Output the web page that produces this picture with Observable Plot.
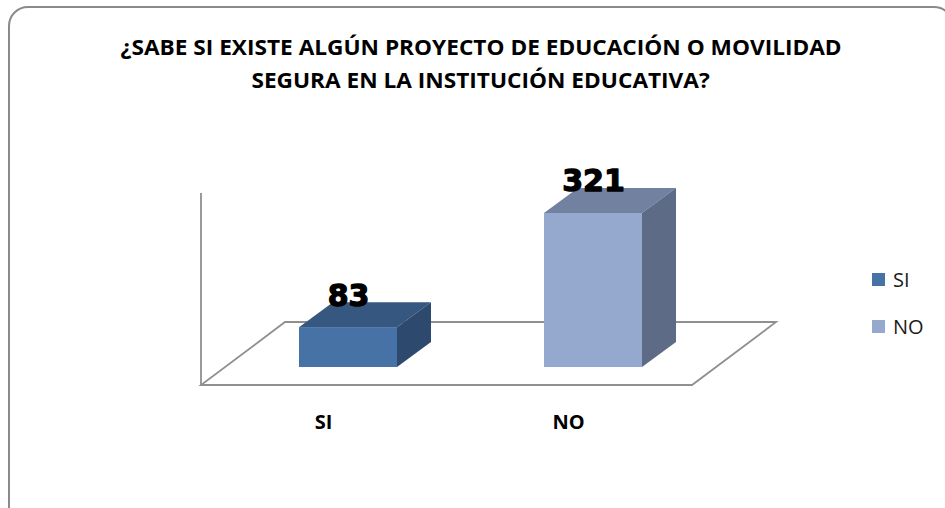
<!DOCTYPE html>
<html><head><meta charset="utf-8">
<script src="https://cdn.jsdelivr.net/npm/d3@7"></script>
<script src="https://cdn.jsdelivr.net/npm/@observablehq/plot@0.6"></script>
<style>
body{margin:0;background:#fff;overflow:hidden}
#wrap{position:relative;width:945px;height:508px;overflow:hidden;font-family:"Open Sans",sans-serif}
#frame{position:absolute;left:8px;top:6px;width:946px;height:520px;border:2px solid #8a8a8a;border-radius:20px;box-sizing:border-box}
#title{position:absolute;left:0;top:30px;width:962px;text-align:center;font-weight:700;font-size:22px;color:#000;line-height:33px}
#title span{display:inline-block;white-space:nowrap;transform-origin:center}
#chart{position:absolute;left:0;top:0}
.lg{position:absolute;left:872px;font-size:20px;color:#1a1a1a;line-height:24px}
.lg i{position:absolute;left:0;width:13px;height:13px}
.lg b{position:absolute;left:21px;font-weight:400;white-space:nowrap}
</style></head>
<body>
<div id="wrap">
  <div id="frame"></div>
  <div id="chart"></div>
  <div id="title"><span id="t1"></span><br><span id="t2"></span></div>
  <div id="legend"></div>
</div>
<script>
const titleLines = ["¿SABE SI EXISTE ALGÚN PROYECTO DE EDUCACIÓN O MOVILIDAD", "SEGURA EN LA INSTITUCIÓN EDUCATIVA?"];
const categories = ["SI", "NO"];
const values = [83, 321];
const frontColors = ["#4672a6", "#95a9cf"];
const topColors = ["#36577f", "#71819f"];
const sideColors = ["#2d4a6e", "#5d6b87"];
const yDomain = [0, 400];

const data = categories.map((c, i) => ({cat: c, value: values[i], top: topColors[i], side: sideColors[i]}));

const DEPTH = [34, -25];      // bar depth offset (px)
const FLOOR = [84, -63];      // floor depth offset (px)
const FRONT = [-24, 18];      // floor front plane offset from bar front plane (px)

function floorMark(index, scales, values, dims) {
  const y0 = scales.y(yDomain[0]);
  const yMax = scales.y(yDomain[1]);
  const l = dims.marginLeft + FRONT[0], r = dims.width - dims.marginRight + FRONT[0];
  const yf = y0 + FRONT[1];
  const g = d3.create("svg:g").attr("fill", "none").attr("stroke", "#8f8f8f").attr("stroke-width", 1.8);
  g.append("path").attr("fill", "#fff").attr("d",
    `M${l},${yf}L${r},${yf}L${r + FLOOR[0]},${yf + FLOOR[1]}L${l + FLOOR[0]},${yf + FLOOR[1]}Z`);
  g.append("line").attr("x1", l).attr("x2", l).attr("y1", yf).attr("y2", yMax + FRONT[1]);
  return g.node();
}

function facesMark(index, scales) {
  const g = d3.create("svg:g");
  const bw = scales.x.bandwidth();
  const y0 = scales.y(0);
  for (const d of data) {
    const x0 = scales.x(d.cat), x1 = x0 + bw, yv = scales.y(d.value);
    const [dx, dy] = DEPTH;
    g.append("path").attr("fill", d.top).attr("d",
      `M${x0},${yv}L${x1},${yv}L${x1 + dx},${yv + dy}L${x0 + dx},${yv + dy}Z`);
    g.append("path").attr("fill", d.side).attr("d",
      `M${x1},${yv}L${x1 + dx},${yv + dy}L${x1 + dx},${y0 + dy}L${x1},${y0}Z`);
  }
  return g.node();
}

const plot = Plot.plot({
  width: 945, height: 508,
  marginLeft: 225, marginRight: 229, marginTop: 175, marginBottom: 141,
  x: {type: "band", domain: categories, paddingInner: 0.6, paddingOuter: 0.3, axis: null},
  y: {domain: yDomain, axis: null},
  color: {domain: categories, range: frontColors},
  style: {background: "transparent", overflow: "visible"},
  marks: [
    floorMark,
    Plot.barY(data, {x: "cat", y: "value", fill: "cat"}),
    facesMark,
    Plot.text(data, {x: "cat", y: "value", text: d => String(d.value), dy: -22, lineAnchor: "bottom",
      fontSize: 30, fontWeight: "bold", fontFamily: "DejaVu Sans", fill: "#000",
      stroke: "#000", strokeWidth: 1.3}),
    Plot.text(data, {x: "cat", y: () => 0, text: "cat", dy: 61, dx: -25, lineAnchor: "bottom",
      fontSize: 20, fontWeight: "bold", fontFamily: "Open Sans", fill: "#000"})
  ]
});
document.getElementById("chart").appendChild(plot);

// title
const t1 = document.getElementById("t1"), t2 = document.getElementById("t2");
t1.textContent = titleLines[0]; t2.textContent = titleLines[1];
const s = 721 / t1.getBoundingClientRect().width;
t1.style.transform = `scaleX(${s})`; t2.style.transform = `scaleX(${s})`;

// legend
const legend = document.getElementById("legend");
const tops = [268, 315];
categories.forEach((c, i) => {
  const div = document.createElement("div");
  div.className = "lg";
  div.style.top = tops[i] + "px";
  div.innerHTML = `<i style="background:${frontColors[i]};top:5px"></i><b>${c}</b>`;
  legend.appendChild(div);
});
</script>
</body></html>
